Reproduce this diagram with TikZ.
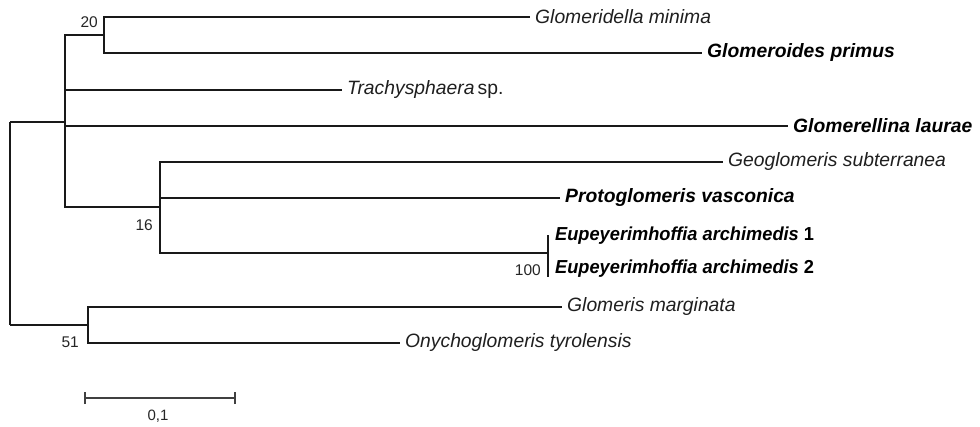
\documentclass[tikz,border=0pt]{standalone}
\usepackage{fontspec}
\setmainfont{Liberation Sans}
\newfontfamily\condfont[FakeStretch=0.969]{Liberation Sans}
\begin{document}
\begin{tikzpicture}[x=1pt,y=-1pt,
  branch/.style={draw=black!90,line width=1.1pt},
  leaf/.style={anchor=west,inner xsep=5pt,inner ysep=0pt,text=black!88,font=\fontsize{19.3}{21}\selectfont\itshape},
  leafb/.style={leaf,text=black,font=\fontsize{19.3}{21}\selectfont\bfseries\itshape},
  leafs/.style={leaf,text=black,inner xsep=7pt,font=\condfont\fontsize{18.8}{20}\selectfont\bfseries\itshape},
  boot/.style={anchor=east,inner sep=0pt,text=black!85,font=\fontsize{15.5}{17}\selectfont}]
\fill[white] (0,0) rectangle (980,426);
\useasboundingbox (0,0) rectangle (980,426);
% internal nodes
\coordinate (rA) at (10,122);
\coordinate (rB) at (10,325);
\coordinate (nA) at (65,122);
\coordinate (n20) at (104,35);
\coordinate (n16) at (160,207);
\coordinate (n51) at (88,325);
\coordinate (n100) at (548,253);
\coordinate (n100t) at (548,235);
\coordinate (n100b) at (548,277);
% leaves
\node[leaf]  (gmin)  at (530,17)  {Glomeridella minima};
\node[leafb] (gpri)  at (702,53)  {Glomeroides primus};
\node[leaf]  (trac)  at (342,90)  {Trachysphaera\,\upshape sp.};
\node[leafb] (glau)  at (788,126) {Glomerellina laurae};
\node[leaf]  (geo)   at (723,162) {Geoglomeris subterranea};
\node[leafb] (proto) at (560,198) {Protoglomeris vasconica};
\node[leafs] (eup1)  at (548,236) {Eupeyerimhoffia archimedis \upshape 1};
\node[leafs] (eup2)  at (548,269) {Eupeyerimhoffia archimedis \upshape 2};
\node[leaf]  (gmar)  at (562,307) {Glomeris marginata};
\node[leaf]  (onyc)  at (400,343) {Onychoglomeris tyrolensis};
% bootstrap values
\node[boot] (b20)  at (98,22)   {20};
\node[boot] (b16)  at (153,225) {16};
\node[boot] (b51)  at (79,342)  {51};
\node[boot] (b100) at (541,270) {100};
% branches
\draw[branch] (rA) -- (rB);
\draw[branch] (rA) -- (nA);
\draw[branch] (rB) -- (n51);
\draw[branch] (nA) |- (n20);
\draw[branch] (nA) |- (n16);
\draw[branch] (nA) |- (trac.west);
\draw[branch] (nA) |- (glau.west);
\draw[branch] (n20) |- (gmin.west);
\draw[branch] (n20) |- (gpri.west);
\draw[branch] (n16) |- (geo.west);
\draw[branch] (n16) |- (proto.west);
\draw[branch] (n16) |- (n100);
\draw[branch] (n100t) -- (n100b);
\draw[branch] (n51) |- (gmar.west);
\draw[branch] (n51) |- (onyc.west);
% scale bar
\coordinate (s1) at (85,398);
\coordinate (s2) at (235,398);
\draw[branch,draw=black!75] (s1) -- (s2);
\draw[branch,draw=black!75] ([yshift=-6pt]s1) -- ([yshift=6pt]s1);
\draw[branch,draw=black!75] ([yshift=-6pt]s2) -- ([yshift=6pt]s2);
\node[inner sep=0pt,text=black!85,font=\fontsize{15}{17}\selectfont] (sl) at (158,416) {0,1};
\end{tikzpicture}
\end{document}
